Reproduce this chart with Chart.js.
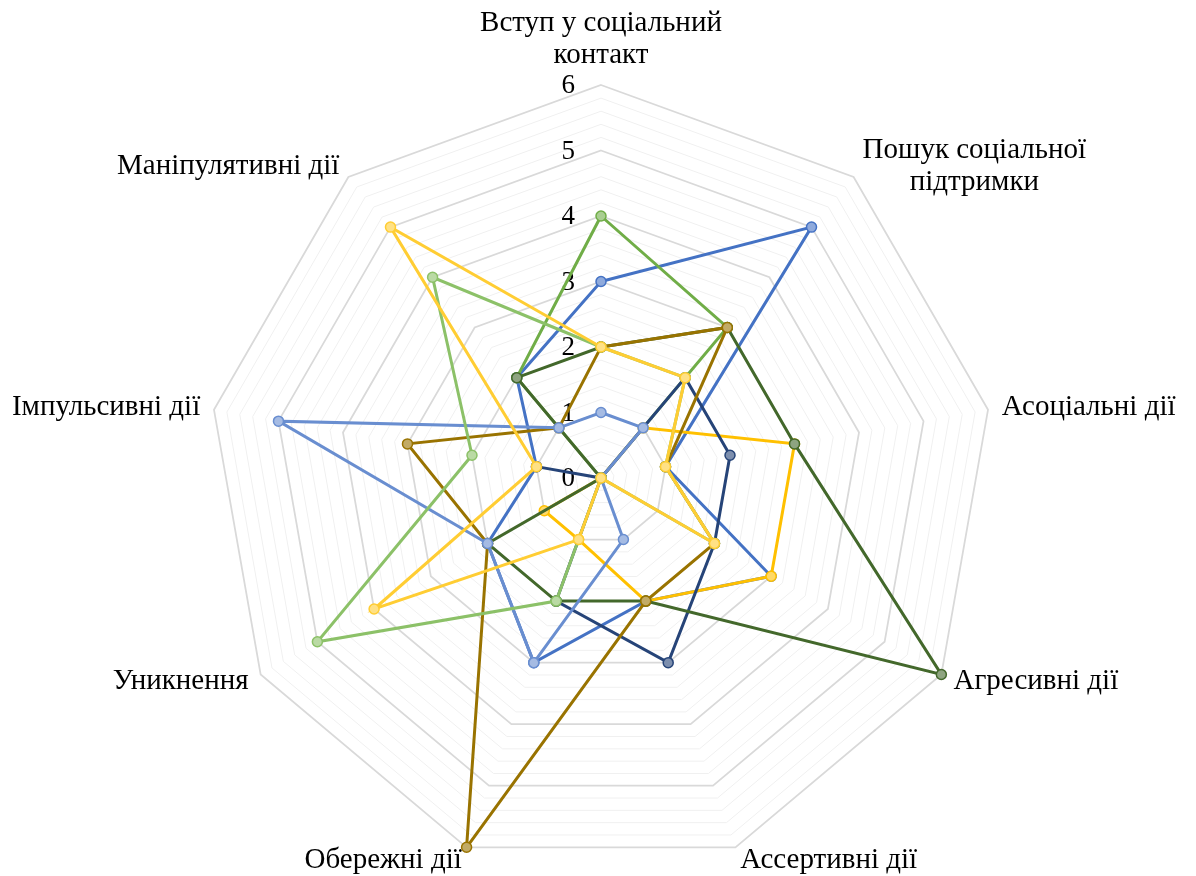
<!DOCTYPE html>
<html lang="uk">
<head>
<meta charset="utf-8">
<title>Стратегії соціальної поведінки</title>
<script src="https://cdn.jsdelivr.net/npm/chart.js"></script>
<style>
  html, body { margin: 0; padding: 0; background: #ffffff; }
  #wrap { width: 1196px; height: 876px; position: relative; }
</style>
</head>
<body>
<div id="wrap"><canvas id="radar"></canvas></div>
<script>
// Axes of the radar (multi-line names are given as arrays)
const categories = [
  ['Вступ у соціальний', 'контакт'],
  ['Пошук соціальної', 'підтримки'],
  ['Асоціальні дії'],
  ['Агресивні дії'],
  ['Ассертивні дії'],
  ['Обережні дії'],
  ['Уникнення'],
  ['Імпульсивні дії'],
  ['Маніпулятивні дії']
];

// Radial tick labels
const tickLabels = [0, 1, 2, 3, 4, 5, 6];

// Series values, one value per axis (same order as categories)
const series1 = [3, 5, 1, 3, 2, 3, 2, 1, 2];
const series2 = [4, 3, 0, 0, 0, 0, 0, 0, 2];
const series3 = [0, 1, 3, 3, 2, 1, 1, 0, 0];
const series4 = [0, 2, 2, 2, 3, 2, 0, 1, 0];
const series5 = [2, 3, 3, 6, 2, 2, 2, 0, 2];
const series6 = [2, 3, 1, 2, 2, 6, 2, 3, 1];
const series7 = [1, 1, 0, 0, 1, 3, 2, 5, 1];
const series8 = [2, 2, 1, 2, 0, 2, 5, 2, 4];
const series9 = [2, 2, 1, 2, 0, 1, 4, 1, 5];

const seriesNames = ['Серія 1', 'Серія 2', 'Серія 3', 'Серія 4', 'Серія 5', 'Серія 6', 'Серія 7', 'Серія 8', 'Серія 9'];
const seriesValues = [series1, series2, series3, series4, series5, series6, series7, series8, series9];
const seriesColors = ['#4472C4', '#70AD47', '#FFC000', '#264478', '#43682B', '#997300', '#698ED0', '#8CC168', '#FFCD33'];

const SERIF = '"Liberation Serif", "Times New Roman", "DejaVu Serif", serif';
const LABEL_SIZE = 29;
const TICK_SIZE = 27;

// lighter marker fill: colour mixed with white
function tint(hex, k) {
  const n = parseInt(hex.slice(1), 16);
  const r = (n >> 16) & 255, g = (n >> 8) & 255, b = n & 255;
  const mix = c => Math.round(c * k + 255 * (1 - k));
  return `rgb(${mix(r)}, ${mix(g)}, ${mix(b)})`;
}

const isMajor = v => Math.abs(v - Math.round(v)) < 1e-6;

// Tick numbers to the left of the vertical axis, and axis names outside the web
const axisText = {
  id: 'axisText',
  beforeDatasetsDraw(chart) {
    const scale = chart.scales.r;
    const ctx = chart.ctx;
    ctx.save();
    ctx.fillStyle = '#000000';

    ctx.font = `${TICK_SIZE}px ${SERIF}`;
    ctx.textAlign = 'right';
    ctx.textBaseline = 'middle';
    tickLabels.forEach(v => {
      const y = scale.yCenter - scale.getDistanceFromCenterForValue(v);
      ctx.fillText(String(v), scale.xCenter - 26, y + 1);
    });

    ctx.font = `${LABEL_SIZE}px ${SERIF}`;
    const lineH = 32;
    ctx.textAlign = 'center';
    categories.forEach((lines, i) => {
      const p = scale.getPointPosition(i, scale.drawingArea + 14);
      const a = scale.getIndexAngle(i);
      const s = Math.sin(a), c = Math.cos(a);
      const blockW = Math.max(...lines.map(t => ctx.measureText(t).width));
      if (Math.abs(s) < 0.05) {
        ctx.textBaseline = 'alphabetic';
        const lastBase = c > 0 ? p.y - 8 : p.y + LABEL_SIZE;
        lines.forEach((t, k) => {
          ctx.fillText(t, p.x, lastBase - (lines.length - 1 - k) * lineH);
        });
      } else {
        // block sits beside the vertex; lines are centred inside the block
        const cx = s > 0 ? p.x + blockW / 2 : p.x - blockW / 2;
        ctx.textBaseline = 'middle';
        lines.forEach((t, k) => {
          ctx.fillText(t, cx, p.y + (k - (lines.length - 1) / 2) * lineH);
        });
      }
    });
    ctx.restore();
  }
};

const datasets = seriesValues.map((vals, i) => ({
  label: seriesNames[i],
  data: vals,
  order: seriesValues.length - i,
  borderColor: seriesColors[i],
  backgroundColor: seriesColors[i],
  borderWidth: 3,
  fill: false,
  tension: 0,
  pointRadius: 5,
  pointBorderWidth: 1.5,
  pointBorderColor: seriesColors[i],
  pointBackgroundColor: tint(seriesColors[i], 0.6),
  pointHoverRadius: 5
}));

new Chart(document.getElementById('radar'), {
  type: 'radar',
  data: { labels: categories, datasets },
  plugins: [axisText],
  options: {
    responsive: true,
    maintainAspectRatio: false,
    animation: false,
    events: [],
    layout: { padding: { top: 85, bottom: 5, left: 6, right: 0 } },
    plugins: {
      legend: { display: false },
      tooltip: { enabled: false }
    },
    elements: {
      line: { borderWidth: 3 }
    },
    scales: {
      r: {
        min: 0,
        max: 6,
        beginAtZero: true,
        ticks: { display: false, stepSize: 0.2 },
        angleLines: { display: false },
        pointLabels: { display: false },
        grid: {
          circular: false,
          color: ctx => isMajor(ctx.tick.value) ? '#d9d9d9' : '#f0f0f0',
          lineWidth: ctx => isMajor(ctx.tick.value) ? 1.75 : 1
        }
      }
    }
  }
});
</script>
</body>
</html>
